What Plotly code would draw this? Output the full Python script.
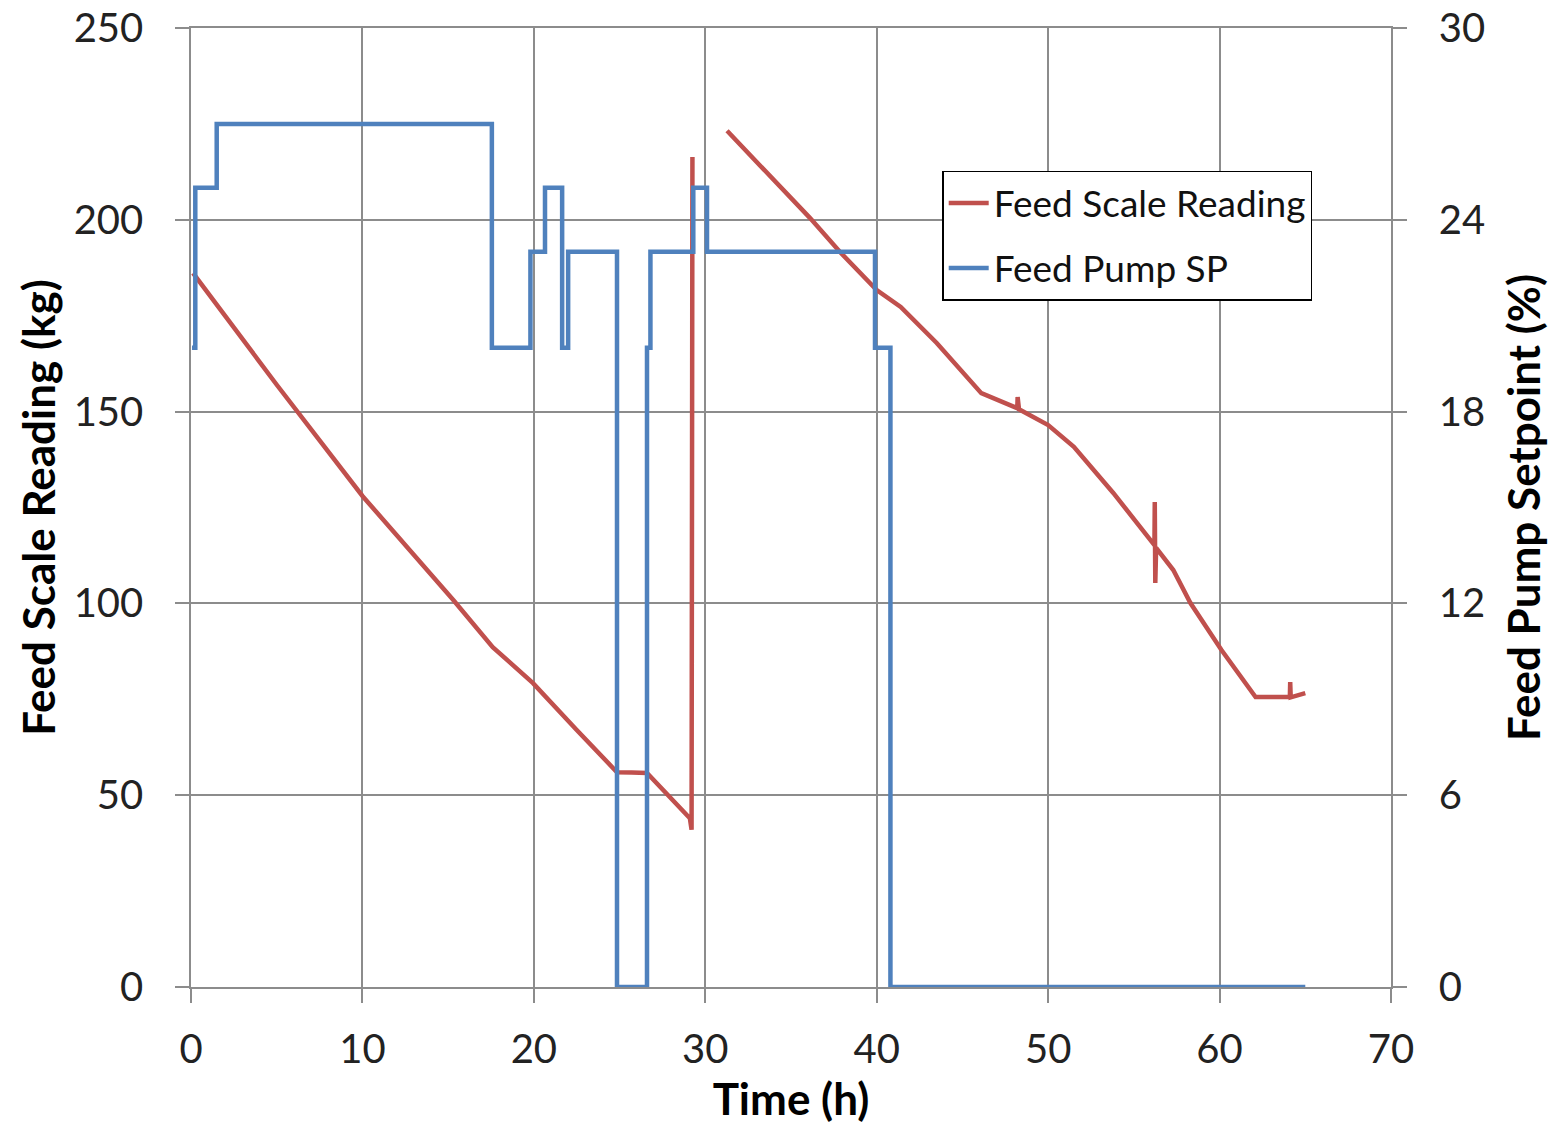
import plotly.graph_objects as go

# Feed scale reading (kg) vs time (h); None marks the data gap
scale_time = [0.12, 5.0, 10.0, 15.3, 17.6, 19.95, 22.5, 24.85, 25.7, 26.6, 29.1, 29.2, 29.25,
              None,
              31.27, 36.1, 37.86, 40.0, 41.4, 43.5, 46.1, 47.5, 48.2, 48.22, 48.3, 50.0, 51.5,
              53.8, 56.2, 56.22, 56.25, 56.3, 57.3, 58.3, 60.1, 62.1, 64.1, 64.12, 64.15, 65.0]
scale_kg = [186.1, 157.0, 128.0, 100.9, 88.6, 79.2, 67.0, 56.0, 55.9, 55.8, 44.0, 41.0, 216.4,
            None,
            223.2, 200.5, 191.6, 181.7, 177.3, 167.9, 154.8, 152.0, 150.9, 153.8, 150.6, 146.5, 140.8,
            128.8, 115.2, 126.4, 105.3, 114.5, 108.7, 100.1, 87.9, 75.6, 75.6, 79.5, 75.5, 76.6]

# Feed pump setpoint (%) step changes
pump_time = [0.06, 0.25, 1.5, 17.55, 19.8, 20.65, 21.65, 22.0, 24.85, 26.6, 26.8, 29.3, 30.1, 39.9, 40.8, 65.0]
pump_sp = [20, 25, 27, 20, 23, 25, 20, 23, 0, 20, 23, 25, 23, 20, 0, 0]

x_ticks = [0, 10, 20, 30, 40, 50, 60, 70]
y_ticks = [0, 50, 100, 150, 200, 250]
y2_ticks = [0, 6, 12, 18, 24, 30]

RED = "#C0504D"
BLUE = "#4F81BD"
GRID = "#8C8C8C"
FONT = "Lato"

fig = go.Figure()
fig.add_trace(go.Scatter(x=scale_time, y=scale_kg, mode="lines", name="Feed Scale Reading",
                         legendgroup="a",
                         line=dict(color=RED, width=4.5), connectgaps=False, yaxis="y"))
fig.add_trace(go.Scatter(x=pump_time, y=pump_sp, mode="lines", name="Feed Pump SP",
                         legendgroup="b",
                         line=dict(color=BLUE, width=4.5, shape="hv"), yaxis="y2"))

tickfont = dict(family=FONT, size=40, color="#222222")
titlefont = dict(family=FONT, size=44, color="#000000", weight="bold")

fig.update_layout(
    width=1566, height=1133,
    margin=dict(l=191, r=175, t=28, b=146),
    plot_bgcolor="white", paper_bgcolor="white",
    showlegend=True,
    legend=dict(x=0.626, y=0.851, xanchor="left", yanchor="top",
                bgcolor="white", bordercolor="#000000", borderwidth=1.5,
                font=dict(family=FONT, size=37, color="#111111"),
                traceorder="grouped", tracegroupgap=14, itemwidth=40),
    xaxis=dict(range=[0, 70], tickvals=x_ticks, ticktext=[str(v) for v in x_ticks],
               showgrid=True, gridcolor=GRID, gridwidth=1.5,
               showline=True, linecolor=GRID, linewidth=1.5, mirror=True,
               ticks="outside", ticklen=14, tickcolor=GRID, tickwidth=1.5,
               ticklabelstandoff=12, tickfont=tickfont, zeroline=False, automargin=False,
               title=dict(text="Time (h)", font=titlefont, standoff=10)),
    yaxis=dict(range=[0, 250], tickvals=y_ticks, ticktext=[str(v) for v in y_ticks],
               showgrid=True, gridcolor=GRID, gridwidth=1.5,
               showline=True, linecolor=GRID, linewidth=1.5,
               ticks="outside", ticklen=14, tickcolor=GRID, tickwidth=1.5,
               ticklabelstandoff=24, tickfont=tickfont, zeroline=False, automargin=False,
               title=dict(text="Feed Scale Reading (kg)", font=titlefont, standoff=4)),
    yaxis2=dict(range=[0, 30], tickvals=y2_ticks, ticktext=[str(v) for v in y2_ticks],
                overlaying="y", side="right", showgrid=False,
                showline=True, linecolor=GRID, linewidth=1.5,
                ticks="outside", ticklen=14, tickcolor=GRID, tickwidth=1.5,
                ticklabelstandoff=24, tickfont=tickfont, zeroline=False, automargin=False,
                title=dict(text="Feed Pump Setpoint (%)", font=titlefont, standoff=25)),
)

fig.write_html("out.html")
